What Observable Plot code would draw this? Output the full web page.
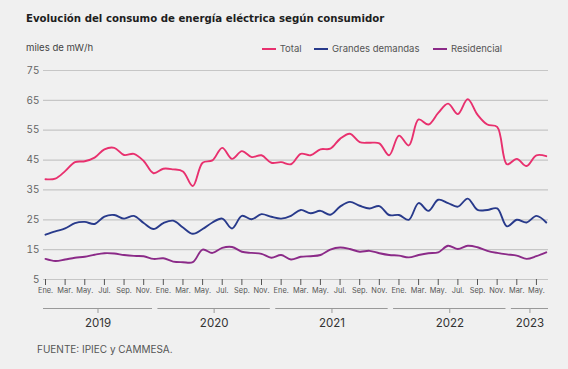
<!DOCTYPE html>
<html>
<head>
<meta charset="utf-8">
<script src="https://cdn.jsdelivr.net/npm/d3@7"></script>
<script src="https://cdn.jsdelivr.net/npm/@observablehq/plot@0.6"></script>
<style>
  html, body { margin: 0; padding: 0; background: #f0f0f0; }
  #wrap { position: relative; width: 568px; height: 369px; background: #f0f0f0; font-family: Inter, "Noto Sans", sans-serif; overflow: hidden; }
  #chart { position: absolute; left: 0; top: 0; }
  .abs { position: absolute; white-space: nowrap; }
  #title { left: 26px; top: 13px; font-family: "DejaVu Sans", sans-serif; font-size: 10.2px; font-weight: 700; color: #1e1e1e; }
  #unit { left: 26px; top: 42px; font-size: 9.6px; color: #444; }
  .leg { top: 43px; font-size: 9.5px; color: #555; display: flex; align-items: center; }
  .leg span.sw { display: inline-block; width: 14px; height: 2px; margin-right: 4px; }
  #foot { left: 37px; top: 343px; font-size: 10px; color: #555; }
</style>
</head>
<body>
<div id="wrap">
  <div id="chart"></div>
  <div id="title" class="abs">Evolución del consumo de energía eléctrica según consumidor</div>
  <div id="unit" class="abs">miles de mW/h</div>
  <div id="legend"></div>
  <div id="foot" class="abs">FUENTE: IPIEC y CAMMESA.</div>
</div>
<script>
// ---- Data ----
const periods = [
  "2019-01","2019-02","2019-03","2019-04","2019-05","2019-06","2019-07","2019-08","2019-09","2019-10","2019-11","2019-12",
  "2020-01","2020-02","2020-03","2020-04","2020-05","2020-06","2020-07","2020-08","2020-09","2020-10","2020-11","2020-12",
  "2021-01","2021-02","2021-03","2021-04","2021-05","2021-06","2021-07","2021-08","2021-09","2021-10","2021-11","2021-12",
  "2022-01","2022-02","2022-03","2022-04","2022-05","2022-06","2022-07","2022-08","2022-09","2022-10","2022-11","2022-12",
  "2023-03","2023-04","2023-05","2023-06"
];
const monthNames = ["Ene.","Feb.","Mar.","Abr.","May.","Jun.","Jul.","Ago.","Sep.","Oct.","Nov.","Dic."];
const seriesNames = ["Total", "Grandes demandas", "Residencial"];
const seriesColors = ["#e8306e", "#283a8b", "#8b2a88"];
const total = [38.6,38.8,41.3,44.3,44.6,45.8,48.6,49.1,46.7,47.1,
  44.7,40.6,42.1,41.9,41.2,36.3,44.1,44.9,49.1,45.4,
  48.0,46.0,46.6,44.1,44.3,43.6,47.1,46.6,48.6,48.8,
  52.1,53.8,51.0,50.8,50.6,46.6,53.2,49.9,58.6,56.9,
  60.8,63.9,60.4,65.4,60.2,56.9,56.1,43.6,45.4,43.0,
  46.6,46.3];
const grandes = [20.0,21.1,22.1,23.9,24.3,23.6,26.1,26.6,25.4,26.3,
  23.9,21.9,23.9,24.7,22.4,20.3,21.9,24.1,25.4,22.1,
  26.3,25.2,26.9,26.0,25.4,26.3,28.3,27.2,28.0,26.7,
  29.4,31.0,29.7,28.8,29.6,26.6,26.6,25.0,30.6,28.0,
  31.7,30.6,29.4,32.1,28.3,28.3,28.8,22.8,25.0,24.1,
  26.3,24.1];
const residencial = [11.9,11.2,11.7,12.3,12.6,13.3,13.8,13.7,13.2,12.9,
  12.8,11.9,12.1,11.0,10.8,10.8,15.0,13.9,15.6,15.9,
  14.3,13.9,13.6,12.3,13.2,11.7,12.6,12.8,13.2,15.0,
  15.7,15.2,14.3,14.6,13.8,13.2,13.0,12.4,13.2,13.8,
  14.1,16.3,15.2,16.3,15.8,14.6,13.9,13.4,13.0,11.9,
  12.8,14.1];
const yTicks = [5, 15, 25, 35, 45, 55, 65, 75];

// ---- Build tables ----
const valuesBySeries = [total, grandes, residencial];
const rows = [];
seriesNames.forEach((s, k) => {
  valuesBySeries[k].forEach((v, i) => rows.push({ i, period: periods[i], series: s, value: v }));
});
const tickIdx = periods.map((p, i) => i).filter(i => i % 2 === 0);
const monthLabel = i => monthNames[+periods[i].slice(5, 7) - 1];

const xDomain = [-0.204, 51.23];
const yearRows = d3.groups(periods.map((p, i) => ({ y: p.slice(0, 4), i })), d => d.y).map(([year, arr], k, all) => {
  const s = arr[0].i, e = arr[arr.length - 1].i;
  const x1 = Math.max(xDomain[0], s - 0.55);
  const x2 = k === all.length - 1 ? Math.min(xDomain[1], e + 0.3) : e - 0.1;
  return { year, x1, x2, mid: (x1 + x2) / 2 };
});

const W = 568, H = 369, mT = 70, mB = 90, mL = 43, mR = 20;
const yMin = yTicks[0], yMax = yTicks[yTicks.length - 1];
const ppu = (H - mT - mB) / (yMax - yMin);

const plot = Plot.plot({
  width: W, height: H,
  marginTop: mT, marginBottom: mB, marginLeft: mL, marginRight: mR,
  style: { background: "transparent", fontFamily: "Inter, 'Noto Sans', sans-serif", overflow: "visible" },
  x: { type: "linear", domain: xDomain, axis: null },
  y: { domain: [yMin, yMax], axis: null },
  color: { domain: seriesNames, range: seriesColors },
  marks: [
    Plot.ruleY(yTicks, { stroke: "#c6c6c6", strokeWidth: 1.2 }),
    Plot.axisY(yTicks, { tickSize: 0, tickPadding: 4, fontSize: 10, color: "#666", label: null }),
    Plot.axisX(tickIdx, { tickFormat: monthLabel, tickSize: 6, tickPadding: 2, fontSize: 7.4, color: "#555", label: null }),
    Plot.line(rows, { x: "i", y: "value", stroke: "series", z: "series", curve: "catmull-rom", strokeWidth: 1.9 }),
    Plot.ruleY(yearRows, { x1: "x1", x2: "x2", y: () => yMin, dy: 29, stroke: "#999", strokeWidth: 1 }),
    Plot.ruleX(yearRows, { x: "mid", y1: () => yMin, y2: () => yMin - 5 / ppu, dy: 29, stroke: "#999", strokeWidth: 1 }),
    Plot.text(yearRows, { x: "mid", y: () => yMin, text: "year", dy: 44, fontSize: 11.5, fill: "#333" })
  ]
});
document.getElementById("chart").appendChild(plot);

// Legend
const legendLefts = [261.7, 314, 433];
const legend = document.getElementById("legend");
seriesNames.forEach((s, k) => {
  const d = document.createElement("div");
  d.className = "abs leg";
  d.style.left = legendLefts[k] + "px";
  d.innerHTML = `<span class="sw" style="background:${seriesColors[k]}"></span>${s}`;
  legend.appendChild(d);
});
</script>
</body>
</html>
